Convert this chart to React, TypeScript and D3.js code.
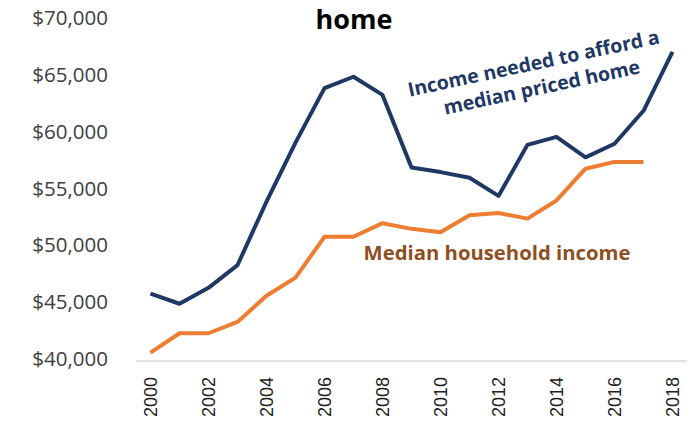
import React from "react";
import * as d3 from "d3";

const years = [2000, 2001, 2002, 2003, 2004, 2005, 2006, 2007, 2008, 2009, 2010, 2011, 2012, 2013, 2014, 2015, 2016, 2017, 2018];
const incomeNeeded = [45900, 45000, 46400, 48400, 54000, 59200, 64000, 65000, 63400, 57000, 56600, 56100, 54500, 59000, 59700, 57900, 59100, 62000, 67200];
const medianIncome = [40700, 42400, 42400, 43400, 45700, 47300, 50900, 50900, 52100, 51600, 51300, 52800, 53000, 52500, 54100, 56900, 57500, 57500, null];
const yTicks = [40000, 45000, 50000, 55000, 60000, 65000, 70000];
const xTickYears = [2000, 2002, 2004, 2006, 2008, 2010, 2012, 2014, 2016, 2018];
const titleText = "home";
const labelNeeded = ["Income needed to afford a", "median priced home"];
const labelMedian = "Median household income";

export default function App() {
  const W = 694, H = 421;
  const x = d3.scaleBand<number>().domain(years).range([136, 687]).padding(0);
  const cx = (yr: number) => (x(yr) as number) + x.bandwidth() / 2;
  const y = d3.scaleLinear().domain([40000, 70000]).range([360.5, 20]);
  const fmt = (v: number) => "$" + d3.format(",")(v);

  const line = d3
    .line<[number, number | null]>()
    .defined((d) => d[1] != null)
    .x((d) => cx(d[0]))
    .y((d) => y(d[1] as number));

  const needPts = years.map((yr, i) => [yr, incomeNeeded[i]] as [number, number | null]);
  const medPts = years.map((yr, i) => [yr, medianIncome[i]] as [number, number | null]);

  return (
    <svg width={W} height={H} style={{ position: "absolute", left: 0, top: 0, background: "#fff" }}>
      <rect width={W} height={H} fill="#fff" />
      <text x={354} y={29} textAnchor="middle" fontFamily="Open Sans" fontWeight={700} fontSize={27} fill="#000">
        {titleText}
      </text>
      {yTicks.map((t) => (
        <text key={t} x={108} y={y(t)} textAnchor="end" dominantBaseline="middle" fontFamily="Open Sans" fontSize={20.5} fill="#404040">
          {fmt(t)}
        </text>
      ))}
      <line x1={136} x2={687} y1={361} y2={361} stroke="#d9d9d9" strokeWidth={1.5} />
      {xTickYears.map((yr) => (
        <text
          key={yr}
          transform={`translate(${cx(yr) + 6.5},377) rotate(-90)`}
          textAnchor="end"
          fontFamily="Liberation Sans"
          fontSize={18}
          fill="#222"
        >
          {yr}
        </text>
      ))}
      <path d={line(medPts) || ""} fill="none" stroke="#ED7D31" strokeWidth={4} strokeLinejoin="round" />
      <path d={line(needPts) || ""} fill="none" stroke="#203864" strokeWidth={4} strokeLinejoin="round" />
      <g transform="translate(535,70) rotate(-12)" fontFamily="Open Sans" fontWeight={700} fontSize={19.5} fill="#1F3864" textAnchor="middle">
        <text x={0} y={0}>{labelNeeded[0]}</text>
        <text x={3} y={25}>{labelNeeded[1]}</text>
      </g>
      <text x={497} y={260} textAnchor="middle" fontFamily="Open Sans" fontWeight={700} fontSize={20.3} fill="#8E4F22">
        {labelMedian}
      </text>
    </svg>
  );
}
